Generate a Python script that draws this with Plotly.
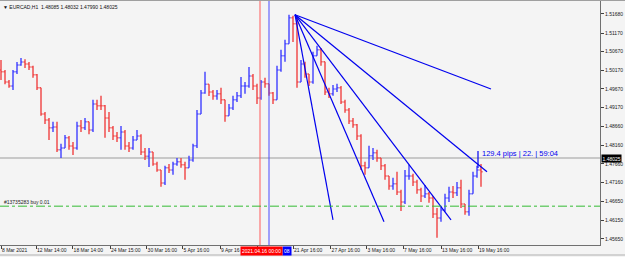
import plotly.graph_objects as go

# ---------------- data ----------------
symbol_header = "▼ EURCAD,H1  1.48085 1.48032 1.47990 1.48025"
first_open = 1.5018
closes = [1.5013,1.4986,1.4975,1.5013,1.5031,1.5039,1.5034,1.5026,1.5005,1.4970,
          1.4900,1.4884,1.4863,1.4865,1.4804,1.4809,1.4836,1.4814,1.4809,1.4868,
          1.4863,1.4879,1.4857,1.4927,1.4922,1.4922,1.4889,1.4863,1.4841,1.4836,
          1.4852,1.4814,1.4809,1.4830,1.4841,1.4798,1.4787,1.4798,1.4766,1.4750,
          1.4715,1.4756,1.4750,1.4766,1.4772,1.4764,1.4756,1.4777,1.4815,1.4900,
          1.4956,1.4980,1.4959,1.4948,1.4954,1.4938,1.4895,1.4916,1.4938,1.4949,
          1.4975,1.4975,1.5002,1.4975,1.4943,1.4986,1.4981,1.4956,1.4938,1.5018,
          1.5056,1.5088,1.5158,1.5142,1.4986,1.5034,1.5007,1.4986,1.5056,1.5072,
          1.5040,1.4959,1.4954,1.4967,1.4970,1.4932,1.4911,1.4881,1.4871,1.4841,
          1.4761,1.4756,1.4788,1.4796,1.4782,1.4761,1.4734,1.4707,1.4713,1.4691,
          1.4664,1.4734,1.4734,1.4718,1.4697,1.4680,1.4686,1.4675,1.4632,1.4621,
          1.4643,1.4675,1.4691,1.4689,1.4702,1.4659,1.4638,1.4686,1.4734,1.4750,
          1.4745]
highs = [1.5045,1.5018,1.4991,1.5018,1.5039,1.5050,1.5047,1.5039,1.5029,1.5007,
         1.4970,1.4905,1.4889,1.4879,1.4879,1.4820,1.4844,1.4841,1.4825,1.4879,
         1.4884,1.4889,1.4879,1.4938,1.4938,1.4949,1.4924,1.4905,1.4868,1.4852,
         1.4868,1.4857,1.4825,1.4841,1.4857,1.4846,1.4809,1.4809,1.4798,1.4772,
         1.4750,1.4761,1.4766,1.4772,1.4782,1.4782,1.4772,1.4788,1.4820,1.4911,
         1.4964,1.5013,1.4980,1.4964,1.4964,1.4970,1.4938,1.4927,1.4949,1.4959,
         1.4999,1.4986,1.5026,1.5007,1.4981,1.4991,1.4997,1.4981,1.4959,1.5029,
         1.5072,1.5099,1.5166,1.5163,1.5158,1.5045,1.5040,1.5007,1.5067,1.5083,
         1.5077,1.5040,1.4970,1.4978,1.4981,1.4975,1.4938,1.4916,1.4889,1.4873,
         1.4846,1.4772,1.4815,1.4809,1.4804,1.4782,1.4766,1.4734,1.4729,1.4745,
         1.4697,1.4750,1.4764,1.4740,1.4724,1.4702,1.4710,1.4691,1.4680,1.4648,
         1.4654,1.4686,1.4705,1.4707,1.4718,1.4724,1.4659,1.4697,1.4745,1.4761,
         1.4766]
lows = [1.4991,1.4980,1.4970,1.4964,1.5007,1.5029,1.5023,1.5018,1.4997,1.4964,
        1.4895,1.4873,1.4830,1.4852,1.4798,1.4782,1.4809,1.4804,1.4790,1.4804,
        1.4852,1.4857,1.4846,1.4852,1.4911,1.4911,1.4836,1.4852,1.4830,1.4825,
        1.4804,1.4804,1.4798,1.4804,1.4830,1.4790,1.4777,1.4758,1.4761,1.4745,
        1.4705,1.4710,1.4742,1.4737,1.4761,1.4756,1.4724,1.4756,1.4772,1.4809,
        1.4900,1.4954,1.4948,1.4938,1.4938,1.4927,1.4879,1.4895,1.4911,1.4932,
        1.4943,1.4954,1.4970,1.4964,1.4927,1.4938,1.4970,1.4949,1.4927,1.4938,
        1.5013,1.5040,1.5088,1.5093,1.4970,1.4986,1.4997,1.4975,1.4981,1.5056,
        1.5029,1.4951,1.4943,1.4949,1.4959,1.4927,1.4903,1.4873,1.4863,1.4830,
        1.4750,1.4737,1.4756,1.4777,1.4772,1.4750,1.4724,1.4697,1.4697,1.4683,
        1.4640,1.4659,1.4724,1.4707,1.4686,1.4664,1.4675,1.4662,1.4621,1.4568,
        1.4611,1.4638,1.4664,1.4675,1.4680,1.4648,1.4630,1.4627,1.4686,1.4729,
        1.4705]
opens = [first_open] + closes[:-1]
bars = list(range(len(closes)))

# "15 Apr 16:00" tick is hidden behind the red time label in the reference; "9 Apr 16" is cut by it
x_tick_bars = [0, 8.75, 17.9, 27.25, 36.4, 45.4, 54.75, 64, 73, 82.4, 91.4, 100.5, 110, 119.25]
x_tick_text = ["8 Mar 2021", "12 Mar 14:00", "18 Mar 14:00", "24 Mar 15:00", "30 Mar 16:00",
               "5 Apr 16:00", "9 Apr 16", "", "21 Apr 16:00", "27 Apr 16:00",
               "3 May 16:00", "7 May 16:00", "13 May 16:00", "19 May 16:00"]
y_tick_vals = [1.51680, 1.51170, 1.50670, 1.50170, 1.49670, 1.49170, 1.48660,
               1.48160, 1.47660, 1.47160, 1.46650, 1.46150, 1.45650]
y_tick_text = ["%.5f" % v for v in y_tick_vals]

fan_origin_bar, fan_origin_price = 73.5, 1.5166
fan_end_bars = [122.5, 121.5, 112.5, 95.75, 83.0]
fan_end_prices = [1.4967, 1.4745, 1.4616, 1.4611, 1.4616]

red_vline_bar = 64.75
blue_vline_bar = 67.0
bid_line_price = 1.4782
bid_label = "1.48025"
order_price = 1.4653
order_label = "#13735283 buy 0.01"
measure_bar = 119.25
measure_prices = [1.4801, 1.4755]
measure_text = "129.4 pips | 22. | 59:04"
red_time_label = "2021.04.16 00:00"
blue_time_label = "08"

x_range = [-0.25, 149.75]
y_range = [1.45489, 1.52028]

FONT = "Liberation Sans"
BG = "#f4f4f4"
TICK_SIZE = 5

fig = go.Figure()

fig.add_trace(go.Ohlc(
    x=bars, open=opens, high=highs, low=lows, close=closes,
    increasing=dict(line=dict(color="#3a3aff", width=1.5)),
    decreasing=dict(line=dict(color="#f03c3c", width=1.5)),
    tickwidth=0.4, opacity=0.9, showlegend=False, hoverinfo="skip"))

# fan lines
for eb, ep in zip(fan_end_bars, fan_end_prices):
    fig.add_trace(go.Scatter(x=[fan_origin_bar, eb], y=[fan_origin_price, ep], mode="lines",
                             line=dict(color="#0000ee", width=1.2), showlegend=False, hoverinfo="skip"))

# measurement vertical
fig.add_trace(go.Scatter(x=[measure_bar, measure_bar], y=measure_prices, mode="lines",
                         line=dict(color="#0000ee", width=1.2), showlegend=False, hoverinfo="skip"))

shapes = [
    dict(type="line", xref="x", yref="paper", x0=red_vline_bar, x1=red_vline_bar, y0=0, y1=1,
         line=dict(color="#ff5a5a", width=1)),
    dict(type="line", xref="x", yref="paper", x0=blue_vline_bar, x1=blue_vline_bar, y0=0, y1=1,
         line=dict(color="#4a4aff", width=1)),
    dict(type="line", xref="paper", yref="y", x0=0, x1=1, y0=bid_line_price, y1=bid_line_price,
         line=dict(color="#c8c8c8", width=2), layer="below"),
    dict(type="line", xref="paper", yref="y", x0=0, x1=1, y0=order_price, y1=order_price,
         line=dict(color="#33bb33", width=1, dash="dashdot")),
    dict(type="line", xref="paper", yref="paper", x0=0, x1=1.0417, y0=1.004, y1=1.004,
         line=dict(color="#505050", width=1)),
    dict(type="line", xref="paper", yref="paper", x0=0, x1=1.0417, y0=-0.041, y1=-0.041,
         line=dict(color="#b0b0b0", width=1)),
]

annotations = [
    dict(text=symbol_header, xref="paper", yref="paper", x=0.0, y=0.995, xanchor="left", yanchor="top",
         showarrow=False, font=dict(family=FONT, size=5, color="#101010"), xshift=1),
    dict(text=order_label, xref="paper", yref="y", x=0.0, y=order_price, xanchor="left", yanchor="bottom",
         showarrow=False, font=dict(family=FONT, size=5, color="#202020"), xshift=2, yshift=-1),
    dict(text=measure_text, xref="x", yref="y", x=measure_bar, y=1.4793, xanchor="left", yanchor="middle",
         showarrow=False, font=dict(family=FONT, size=7.5, color="#0000ee"), xshift=2),
    dict(text=bid_label, xref="paper", yref="y", x=1.0, y=bid_line_price, xanchor="left", yanchor="middle",
         showarrow=False, font=dict(family=FONT, size=TICK_SIZE, color="#ffffff"), bgcolor="#000000",
         borderpad=0.5, xshift=1),
    dict(text=blue_time_label, xref="x", yref="paper", x=blue_vline_bar + 4.5, y=0, xanchor="center",
         yanchor="top", showarrow=False, font=dict(family=FONT, size=TICK_SIZE, color="#ffffff"),
         bgcolor="#0000ff", borderpad=1, yshift=-1),
    dict(text=red_time_label, xref="x", yref="paper", x=red_vline_bar + 0.25, y=0, xanchor="center",
         yanchor="top", showarrow=False, font=dict(family=FONT, size=TICK_SIZE, color="#ffffff"),
         bgcolor="#ff0000", borderpad=1, yshift=-1),
]

fig.update_layout(
    width=625, height=257, margin=dict(l=0, r=25, t=1, b=12),
    paper_bgcolor=BG, plot_bgcolor=BG, showlegend=False,
    shapes=shapes, annotations=annotations,
    xaxis=dict(range=x_range, tickmode="array", tickvals=x_tick_bars, ticktext=x_tick_text,
               ticks="outside", ticklen=3, tickcolor="#404040", ticklabelposition="outside right",
               tickangle=0, automargin=False,
               tickfont=dict(family=FONT, size=TICK_SIZE, color="#202020"),
               showgrid=False, zeroline=False, showline=True, linecolor="#707070", linewidth=1,
               rangeslider=dict(visible=False), fixedrange=True),
    yaxis=dict(range=y_range, side="right", tickmode="array", tickvals=y_tick_vals, ticktext=y_tick_text,
               ticks="outside", ticklen=3, tickcolor="#404040", automargin=False,
               tickfont=dict(family=FONT, size=TICK_SIZE, color="#202020"),
               showgrid=False, zeroline=False, showline=True, linecolor="#707070", linewidth=1,
               fixedrange=True),
)

fig.write_html("out.html")
